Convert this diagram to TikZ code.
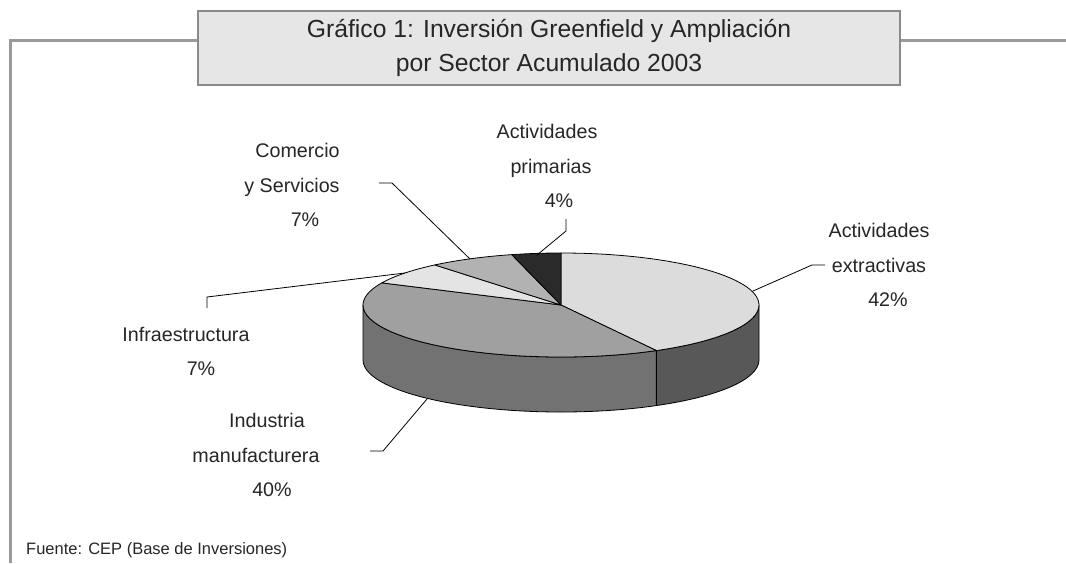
\documentclass[tikz,border=0pt]{standalone}
\usepackage{fontspec}
\setmainfont{Liberation Sans}
\usetikzlibrary{calc}
\definecolor{framecol}{HTML}{9A9A9A}
\definecolor{boxfill}{HTML}{E6E6E6}
\definecolor{boxline}{HTML}{8A8A8A}
\definecolor{extop}{HTML}{DCDCDC}
\definecolor{exside}{HTML}{585858}
\definecolor{mftop}{HTML}{A0A0A0}
\definecolor{mfside}{HTML}{727272}
\definecolor{inftop}{HTML}{E4E4E4}
\definecolor{comtop}{HTML}{B2B2B2}
\definecolor{primtop}{HTML}{2A2A2A}
\newcommand\lbfont{\fontsize{19.7}{34.5}\selectfont}
\newcommand\ttlfont{\fontsize{24.7}{34}\selectfont}
\tikzset{
  lbl/.style={font=\lbfont, align=center, inner sep=0pt, text=black!85},
  leader/.style={draw=black, line width=0.8pt},
  pieline/.style={draw=black, line width=0.8pt, line join=round},
  titlebox/.style={draw=boxline, line width=1.6pt, fill=boxfill, minimum width=702pt, minimum height=74pt, align=center, font=\ttlfont, inner sep=0pt, text=black!85},
  el/.style={x radius=198, y radius=52}
}
\begin{document}
\begin{tikzpicture}[x=1pt,y=1pt]
\useasboundingbox (0,0) rectangle (1066,-563);
\fill[white] (0,0) rectangle (1066,-563);
% frame
\draw[framecol, line width=3pt] (10,-563) -- (10,-40) -- (1066,-40);
% title
\node[titlebox] (title) at (549,-48) {Gráfico 1: Inversión Greenfield y Ampliación\\por Sector Acumulado 2003};
% pie
\coordinate (C) at (561,-305);
% sides
\filldraw[pieline, fill=exside] ($(C)+(0:198 and 52)$) arc[start angle=0,end angle=-61.2,el] -- ++(0,-55) arc[start angle=-61.2,end angle=0,el] -- cycle;
\filldraw[pieline, fill=mfside] ($(C)+(180:198 and 52)$) arc[start angle=180,end angle=298.8,el] -- ++(0,-55) arc[start angle=298.8,end angle=180,el] -- cycle;
% tops
\filldraw[pieline, fill=extop] (C) -- ($(C)+(90:198 and 52)$) arc[start angle=90,end angle=-61.2,el] -- cycle;
\filldraw[pieline, fill=mftop] (C) -- ($(C)+(-61.2:198 and 52)$) arc[start angle=-61.2,end angle=-205.2,el] -- cycle;
\filldraw[pieline, fill=inftop] (C) -- ($(C)+(154.8:198 and 52)$) arc[start angle=154.8,end angle=129.6,el] -- cycle;
\filldraw[pieline, fill=comtop] (C) -- ($(C)+(129.6:198 and 52)$) arc[start angle=129.6,end angle=104.4,el] -- cycle;
\filldraw[pieline, fill=primtop] (C) -- ($(C)+(104.4:198 and 52)$) arc[start angle=104.4,end angle=90,el] -- cycle;
% labels
\node[lbl] (prim) at (551,-166) {\hspace*{-8pt}Actividades\\primarias\\\hspace*{16pt}4\%};
\node[lbl] (com) at (292,-185) {\hspace*{11pt}Comercio\\y Servicios\\\hspace*{26pt}7\%};
\node[lbl] (infra) at (186,-351.5) {Infraestructura\\\hspace*{30pt}7\%};
\node[lbl] (ind) at (256,-455) {\hspace*{22pt}Industria\\manufacturera\\\hspace*{32pt}40\%};
\node[lbl] (ext) at (879,-265) {Actividades\\extractivas\\\hspace*{18pt}42\%};
\node[font=\fontsize{16.5}{20}\selectfont, anchor=west, inner sep=0pt, text=black!85] (src) at (26,-550) {Fuente: CEP (Base de Inversiones)};
% leader coordinates
\coordinate (primS) at (537,-255);
\coordinate (primK) at (566,-231);
\coordinate (primE) at (566,-219);
\coordinate (comS) at (470,-259);
\coordinate (comK) at (392,-183);
\coordinate (comE) at (379,-183);
\coordinate (infS) at (405,-273);
\coordinate (infK) at (207,-297);
\coordinate (infE) at (207,-308);
\coordinate (extS) at (753,-291);
\coordinate (extK) at (812,-265);
\coordinate (extE) at (825,-265);
\coordinate (indS) at (427,-399);
\coordinate (indK) at (383,-451);
\coordinate (indE) at (370,-451);
\draw[leader] (primS) -- (primK) -- (primE);
\draw[leader] (comS) -- (comK) -- (comE);
\draw[leader] (infS) -- (infK) -- (infE);
\draw[leader] (extS) -- (extK) -- (extE);
\draw[leader] (indS) -- (indK) -- (indE);
\end{tikzpicture}
\end{document}
